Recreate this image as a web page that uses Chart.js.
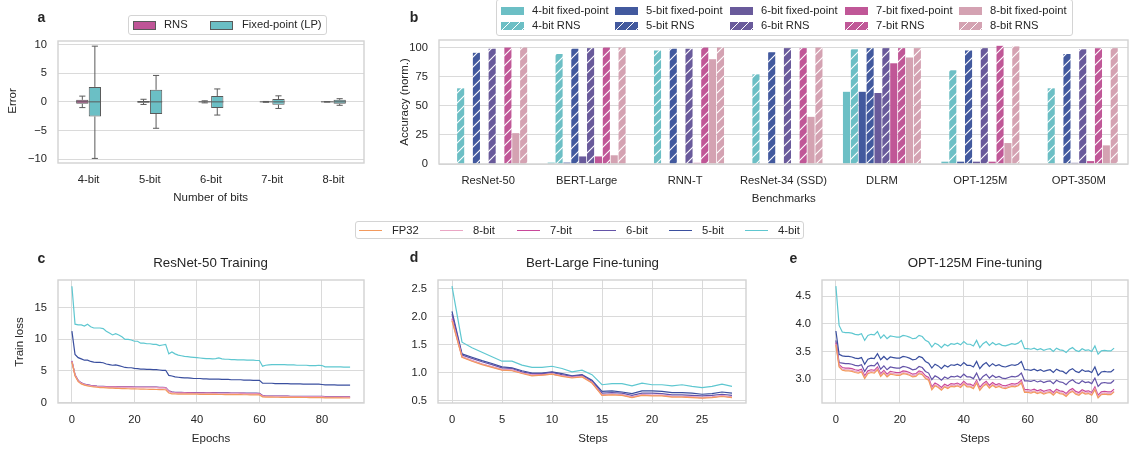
<!DOCTYPE html>
<html>
<head>
<meta charset="utf-8">
<script src="https://cdn.jsdelivr.net/npm/chart.js@4.4.1/dist/chart.umd.min.js"></script>
<style>
  html, body { margin: 0; padding: 0; background: #fff; }
  #fig { position: relative; width: 1133px; height: 449px; overflow: hidden;
         font-family: "Liberation Sans", Arial, sans-serif; color: #262626; }
  #fig canvas { position: absolute; }
  .t { position: absolute; white-space: nowrap; font-size: 11.2px; line-height: 1; }
  .ctr { transform: translate(-50%, -50%); }
  .rot { transform: translate(-50%, -50%) rotate(-90deg); }
  .lbl { font-size: 11.5px; }
  .panel { font-weight: bold; font-size: 14px; }
  .title { font-size: 13.3px; }
  .legend { position: absolute; box-sizing: border-box; background: rgba(255,255,255,0.85);
            border: 1px solid #d4d4d4; border-radius: 3px; }
  .sw { position: absolute; box-sizing: border-box; }
  .ln { position: absolute; height: 1.5px; width: 23px; }
  .lt { position: absolute; white-space: nowrap; font-size: 11.2px; line-height: 1; transform: translateY(-50%); }
</style>
</head>
<body>
<div id="fig">
  <canvas id="chartA" width="380" height="195" style="left:0;top:0"></canvas>
  <canvas id="chartB" width="753" height="195" style="left:380px;top:0"></canvas>
  <canvas id="chartC" width="380" height="199" style="left:0;top:250px"></canvas>
  <canvas id="chartD" width="380" height="199" style="left:380px;top:250px"></canvas>
  <canvas id="chartE" width="373" height="199" style="left:760px;top:250px"></canvas>

  <div class="t panel ctr" style="left:41.5px;top:17px">a</div>
  <div class="t panel ctr" style="left:414px;top:16.5px">b</div>
  <div class="t panel ctr" style="left:41.5px;top:257.5px">c</div>
  <div class="t panel ctr" style="left:414px;top:257px">d</div>
  <div class="t panel ctr" style="left:793.5px;top:257.5px">e</div>

  <div class="t title ctr" style="left:210.5px;top:263px">ResNet-50 Training</div>
  <div class="t title ctr" style="left:592.5px;top:263px">Bert-Large Fine-tuning</div>
  <div class="t title ctr" style="left:975px;top:263px">OPT-125M Fine-tuning</div>

  <div class="t lbl rot" style="left:12.5px;top:101px">Error</div>
  <div class="t lbl ctr" style="left:210.7px;top:198px">Number of bits</div>
  <div class="t lbl rot" style="left:405.3px;top:102px">Accuracy (norm.)</div>
  <div class="t lbl ctr" style="left:783.8px;top:199px">Benchmarks</div>
  <div class="t lbl rot" style="left:20px;top:341.5px">Train loss</div>
  <div class="t lbl ctr" style="left:211px;top:439px">Epochs</div>
  <div class="t lbl ctr" style="left:593px;top:439px">Steps</div>
  <div class="t lbl ctr" style="left:975px;top:439px">Steps</div>

  <div class="legend" id="legA" style="left:128px;top:15px;width:199px;height:20px"></div>
  <div class="legend" id="legB" style="left:496px;top:-1px;width:577px;height:37px"></div>
  <div class="legend" id="legC" style="left:355px;top:221px;width:449px;height:18px"></div>
</div>

<script>
// ---- panel a: error distribution per bit width ----
const bitLabels = ['4-bit', '5-bit', '6-bit', '7-bit', '8-bit'];
const rnsLo  = [-1.0, -0.45, -0.18, -0.07, -0.03];
const rnsQ1  = [-0.35, -0.15, -0.08, -0.03, -0.01];
const rnsMed = [0, 0, 0, 0, 0];
const rnsQ3  = [0.35, 0.15, 0.08, 0.03, 0.01];
const rnsHi  = [1.0, 0.45, 0.18, 0.07, 0.03];
const fixLo  = [-9.85, -4.6, -2.3, -1.15, -0.6];
const fixQ1  = [-2.55, -2.1, -1.05, -0.5, -0.35];
const fixMed = [0, 0, 0, 0, 0];
const fixQ3  = [2.6, 2.1, 1.0, 0.5, 0.35];
const fixHi  = [9.7, 4.6, 2.25, 1.05, 0.55];
const errTicks = [-10, -5, 0, 5, 10];

// ---- panel b: normalised accuracy ----
const benchmarks = ['ResNet-50', 'BERT-Large', 'RNN-T', 'ResNet-34 (SSD)', 'DLRM', 'OPT-125M', 'OPT-350M'];
const fixed4 = [0, 1.2, 0, 0, 62, 2, 0];
const rns4   = [65, 94.5, 97.5, 77, 98.5, 80.5, 65];
const fixed5 = [0, 1.2, 0, 0, 62, 2, 0];
const rns5   = [95.5, 99, 99, 96, 99.5, 97.5, 94.5];
const fixed6 = [0, 6.5, 0, 0, 61, 2, 1];
const rns6   = [99, 99.5, 99, 99.5, 99.5, 99.5, 98.5];
const fixed7 = [0, 6.5, 1, 0, 86.5, 2, 2.5];
const rns7   = [100, 100, 100, 99.5, 99.5, 101.5, 99.5];
const fixed8 = [26.5, 7.5, 90, 40.5, 91.5, 18, 16];
const rns8   = [100, 100, 100, 100, 99.5, 101, 99.5];
const accTicks = [0, 25, 50, 75, 100];

// ---- panels c-e: training loss ----
const lossNames = ['FP32', '8-bit', '7-bit', '6-bit', '5-bit', '4-bit'];

const resnetFp32 = [6.4, 4.2, 3.3, 2.95, 2.75, 2.62, 2.53, 2.46, 2.41, 2.37,
  2.34, 2.31, 2.29, 2.27, 2.25, 2.23, 2.21, 2.2, 2.18, 2.17,
  2.15, 2.14, 2.12, 2.11, 2.1, 2.08, 2.07, 2.06, 2.05, 2.04,
  2.02, 1.5, 1.38, 1.35, 1.34, 1.33, 1.33, 1.32, 1.32, 1.31,
  1.31, 1.3, 1.3, 1.29, 1.29, 1.28, 1.28, 1.27, 1.27, 1.26,
  1.26, 1.25, 1.25, 1.24, 1.24, 1.23, 1.23, 1.22, 1.22, 1.21,
  1.2, 0.9, 0.85, 0.84, 0.84, 0.83, 0.83, 0.82, 0.82, 0.81,
  0.81, 0.8, 0.8, 0.8, 0.79, 0.79, 0.78, 0.78, 0.78, 0.77,
  0.77, 0.74, 0.73, 0.73, 0.72, 0.72, 0.72, 0.71, 0.71, 0.71];
const resnet8 = [6.5, 4.3, 3.4, 3.02, 2.83, 2.72, 2.63, 2.57, 2.52, 2.49,
  2.47, 2.45, 2.44, 2.42, 2.42, 2.41, 2.4, 2.39, 2.39, 2.38,
  2.37, 2.37, 2.36, 2.36, 2.35, 2.35, 2.34, 2.34, 2.33, 2.33,
  2.3, 1.72, 1.56, 1.51, 1.49, 1.48, 1.47, 1.46, 1.46, 1.45,
  1.45, 1.44, 1.44, 1.43, 1.43, 1.42, 1.42, 1.41, 1.41, 1.4,
  1.4, 1.39, 1.39, 1.39, 1.38, 1.38, 1.37, 1.37, 1.36, 1.36,
  1.34, 1.0, 0.95, 0.94, 0.94, 0.93, 0.93, 0.92, 0.92, 0.92,
  0.91, 0.91, 0.91, 0.9, 0.9, 0.9, 0.89, 0.89, 0.89, 0.88,
  0.88, 0.84, 0.83, 0.83, 0.82, 0.82, 0.82, 0.81, 0.81, 0.81];
const resnet7 = [6.55, 4.35, 3.45, 3.06, 2.87, 2.76, 2.67, 2.61, 2.56, 2.53,
  2.51, 2.49, 2.48, 2.46, 2.46, 2.45, 2.44, 2.43, 2.43, 2.42,
  2.41, 2.41, 2.4, 2.4, 2.39, 2.39, 2.38, 2.38, 2.37, 2.37,
  2.34, 1.78, 1.62, 1.56, 1.54, 1.53, 1.52, 1.51, 1.51, 1.5,
  1.5, 1.49, 1.49, 1.48, 1.48, 1.47, 1.47, 1.46, 1.46, 1.45,
  1.45, 1.44, 1.44, 1.44, 1.43, 1.43, 1.42, 1.42, 1.41, 1.41,
  1.39, 1.05, 0.99, 0.98, 0.98, 0.97, 0.97, 0.96, 0.96, 0.96,
  0.95, 0.95, 0.95, 0.94, 0.94, 0.94, 0.93, 0.93, 0.93, 0.92,
  0.92, 0.88, 0.87, 0.87, 0.86, 0.86, 0.86, 0.85, 0.85, 0.85];
const resnet6 = [6.6, 4.4, 3.5, 3.1, 2.9, 2.8, 2.7, 2.65, 2.6, 2.57,
  2.55, 2.53, 2.52, 2.5, 2.5, 2.49, 2.48, 2.47, 2.47, 2.46,
  2.45, 2.45, 2.44, 2.44, 2.43, 2.43, 2.42, 2.42, 2.41, 2.41,
  2.38, 1.85, 1.68, 1.62, 1.6, 1.59, 1.58, 1.57, 1.57, 1.56,
  1.56, 1.55, 1.55, 1.54, 1.54, 1.53, 1.53, 1.52, 1.52, 1.51,
  1.51, 1.5, 1.5, 1.5, 1.49, 1.49, 1.48, 1.48, 1.47, 1.47,
  1.45, 1.1, 1.03, 1.02, 1.02, 1.01, 1.01, 1.0, 1.0, 1.0,
  0.99, 0.99, 0.99, 0.98, 0.98, 0.98, 0.97, 0.97, 0.97, 0.96,
  0.96, 0.92, 0.91, 0.91, 0.9, 0.9, 0.9, 0.89, 0.89, 0.89];
const resnet5 = [11.3, 7.6, 7.1, 6.9, 6.7, 6.7, 6.5, 6.4, 6.35, 6.35,
  6.3, 6.1, 6.0, 5.9, 5.95, 5.85, 5.7, 5.55, 5.5, 5.5,
  5.4, 5.35, 5.3, 5.3, 5.25, 5.25, 5.2, 5.2, 5.15, 5.1,
  5.1, 4.3, 4.2, 4.05, 4.0, 3.95, 3.9, 3.9, 3.85, 3.8,
  3.8, 3.8, 3.75, 3.75, 3.7, 3.7, 3.7, 3.7, 3.65, 3.65,
  3.65, 3.6, 3.6, 3.6, 3.6, 3.55, 3.55, 3.55, 3.5, 3.5,
  3.5, 3.05, 3.05, 3.05, 3.05, 3.0, 3.0, 3.0, 3.0, 3.0,
  2.95, 2.95, 2.95, 2.95, 2.9, 2.9, 2.9, 2.9, 2.9, 2.9,
  2.85, 2.8, 2.8, 2.8, 2.8, 2.75, 2.75, 2.75, 2.75, 2.75];
const resnet4 = [18.4, 12.4, 12.3, 12.3, 12.1, 12.4, 12.0, 11.8, 11.8, 11.8,
  11.7, 11.3, 11.0, 10.7, 10.9, 10.7, 10.4, 10.0, 10.0, 9.9,
  9.7, 9.7, 9.4, 9.4, 9.3, 9.3, 9.2, 9.2, 9.0, 9.1,
  9.2, 7.7, 8.0, 7.7, 7.5, 7.4, 7.3, 7.25, 7.2, 7.15,
  7.1, 7.05, 7.0, 6.95, 6.95, 6.9, 6.95, 7.05, 6.9, 6.85,
  6.85, 6.8, 6.8, 6.75, 6.75, 6.75, 6.7, 6.7, 6.7, 6.65,
  6.65, 5.75, 5.9, 5.95, 6.0, 6.0, 6.0, 6.0, 6.0, 5.95,
  5.95, 5.95, 5.9, 5.9, 5.9, 5.9, 5.85, 5.85, 5.85, 5.9,
  5.85, 5.65, 5.65, 5.65, 5.65, 5.65, 5.65, 5.6, 5.6, 5.6];

const bertFp32 = [1.93, 1.28, 1.21, 1.15, 1.1, 1.05, 1.04, 0.99, 0.95, 0.96,
  0.98, 0.94, 0.91, 0.93, 0.82, 0.6, 0.61, 0.6, 0.56, 0.6,
  0.59, 0.59, 0.57, 0.57, 0.56, 0.55, 0.56, 0.58, 0.56];
const bert8 = [1.95, 1.29, 1.22, 1.16, 1.11, 1.06, 1.05, 1.0, 0.96, 0.96,
  0.98, 0.95, 0.92, 0.94, 0.83, 0.61, 0.62, 0.61, 0.57, 0.61,
  0.6, 0.6, 0.58, 0.58, 0.57, 0.56, 0.57, 0.59, 0.57];
const bert7 = [1.97, 1.29, 1.22, 1.16, 1.11, 1.06, 1.05, 1.0, 0.96, 0.97,
  0.98, 0.95, 0.92, 0.94, 0.83, 0.61, 0.62, 0.61, 0.57, 0.61,
  0.6, 0.6, 0.58, 0.58, 0.57, 0.56, 0.57, 0.59, 0.57];
const bert6 = [2.05, 1.32, 1.26, 1.2, 1.15, 1.09, 1.08, 1.02, 0.99, 0.99,
  1.01, 0.97, 0.94, 0.96, 0.85, 0.64, 0.65, 0.64, 0.6, 0.64,
  0.64, 0.63, 0.61, 0.61, 0.6, 0.59, 0.6, 0.62, 0.6];
const bert5 = [2.1, 1.34, 1.28, 1.22, 1.17, 1.11, 1.09, 1.04, 1.0, 1.0,
  1.02, 0.99, 0.95, 0.97, 0.87, 0.67, 0.68, 0.66, 0.63, 0.68,
  0.68, 0.67, 0.65, 0.65, 0.64, 0.62, 0.63, 0.66, 0.64];
const bert4 = [2.55, 1.55, 1.45, 1.37, 1.29, 1.21, 1.21, 1.14, 1.1, 1.1,
  1.12, 1.08, 1.02, 1.05, 0.97, 0.79, 0.81, 0.81, 0.77, 0.82,
  0.79, 0.79, 0.77, 0.79, 0.76, 0.74, 0.76, 0.8, 0.76];

const optFp32 = [3.62, 3.22, 3.16, 3.15, 3.15, 3.14, 3.12, 3.11, 3.13, 3.01,
  3.10, 3.12, 3.11, 3.17, 3.05, 3.11, 3.04, 3.09, 3.08, 3.07,
  3.07, 3.10, 3.09, 3.07, 3.04, 3.05, 3.10, 3.08, 3.01, 2.98,
  2.81, 2.88, 2.85, 2.80, 2.86, 2.83, 2.87, 2.86, 2.88, 2.85,
  2.91, 2.86, 2.86, 2.83, 2.93, 2.80, 2.87, 2.91, 2.84, 2.89,
  2.85, 2.87, 2.84, 2.83, 2.85, 2.87, 2.86, 2.88, 2.93, 2.76,
  2.76, 2.75, 2.77, 2.74, 2.76, 2.73, 2.75, 2.76, 2.71, 2.77,
  2.74, 2.73, 2.69, 2.75, 2.78, 2.73, 2.71, 2.76, 2.73, 2.74,
  2.71, 2.81, 2.66, 2.72, 2.73, 2.72, 2.72, 2.77];
const opt8 = [3.64, 3.24, 3.18, 3.17, 3.17, 3.16, 3.14, 3.13, 3.15, 3.03,
  3.12, 3.14, 3.13, 3.19, 3.07, 3.13, 3.06, 3.11, 3.10, 3.09,
  3.09, 3.12, 3.11, 3.09, 3.06, 3.07, 3.12, 3.10, 3.03, 3.00,
  2.83, 2.90, 2.87, 2.82, 2.88, 2.85, 2.89, 2.88, 2.90, 2.87,
  2.93, 2.88, 2.88, 2.85, 2.95, 2.82, 2.89, 2.93, 2.86, 2.91,
  2.87, 2.89, 2.86, 2.85, 2.87, 2.89, 2.88, 2.90, 2.95, 2.78,
  2.78, 2.77, 2.79, 2.76, 2.78, 2.75, 2.77, 2.78, 2.73, 2.79,
  2.76, 2.75, 2.71, 2.77, 2.80, 2.75, 2.73, 2.78, 2.75, 2.76,
  2.73, 2.83, 2.68, 2.74, 2.75, 2.74, 2.74, 2.79];
const opt7 = [3.66, 3.26, 3.21, 3.20, 3.20, 3.19, 3.17, 3.16, 3.18, 3.06,
  3.15, 3.17, 3.16, 3.22, 3.10, 3.16, 3.09, 3.14, 3.13, 3.12,
  3.12, 3.15, 3.14, 3.12, 3.09, 3.10, 3.15, 3.13, 3.06, 3.03,
  2.86, 2.93, 2.90, 2.85, 2.91, 2.88, 2.92, 2.91, 2.93, 2.90,
  2.96, 2.91, 2.91, 2.88, 2.98, 2.85, 2.92, 2.96, 2.89, 2.94,
  2.90, 2.92, 2.89, 2.88, 2.90, 2.92, 2.91, 2.93, 2.98, 2.81,
  2.81, 2.80, 2.82, 2.79, 2.81, 2.78, 2.80, 2.81, 2.76, 2.82,
  2.79, 2.78, 2.74, 2.80, 2.83, 2.78, 2.76, 2.81, 2.78, 2.79,
  2.76, 2.86, 2.71, 2.77, 2.78, 2.77, 2.77, 2.82];
const opt6 = [3.70, 3.30, 3.29, 3.28, 3.28, 3.27, 3.25, 3.24, 3.26, 3.14,
  3.23, 3.25, 3.24, 3.30, 3.18, 3.24, 3.17, 3.22, 3.21, 3.20,
  3.20, 3.23, 3.22, 3.20, 3.17, 3.18, 3.23, 3.21, 3.14, 3.11,
  2.99, 3.06, 3.03, 2.98, 3.04, 3.01, 3.05, 3.04, 3.06, 3.03,
  3.09, 3.04, 3.04, 3.01, 3.11, 2.98, 3.05, 3.09, 3.02, 3.07,
  3.03, 3.05, 3.02, 3.01, 3.03, 3.05, 3.04, 3.06, 3.11, 2.97,
  2.97, 2.96, 2.98, 2.95, 2.97, 2.94, 2.96, 2.97, 2.92, 2.98,
  2.95, 2.94, 2.90, 2.96, 2.99, 2.94, 2.92, 2.97, 2.94, 2.95,
  2.92, 3.02, 2.87, 2.93, 2.94, 2.93, 2.93, 2.98];
const opt5 = [3.87, 3.45, 3.42, 3.41, 3.41, 3.40, 3.38, 3.37, 3.39, 3.27,
  3.36, 3.38, 3.37, 3.46, 3.35, 3.41, 3.35, 3.40, 3.39, 3.38,
  3.38, 3.41, 3.40, 3.38, 3.35, 3.36, 3.41, 3.39, 3.32, 3.29,
  3.20, 3.27, 3.24, 3.19, 3.25, 3.22, 3.26, 3.25, 3.27, 3.24,
  3.30, 3.25, 3.25, 3.22, 3.32, 3.19, 3.26, 3.30, 3.23, 3.28,
  3.24, 3.26, 3.23, 3.22, 3.24, 3.26, 3.25, 3.27, 3.32, 3.17,
  3.17, 3.16, 3.18, 3.15, 3.17, 3.14, 3.16, 3.17, 3.12, 3.18,
  3.15, 3.14, 3.10, 3.16, 3.19, 3.14, 3.12, 3.17, 3.14, 3.15,
  3.12, 3.22, 3.07, 3.13, 3.14, 3.13, 3.13, 3.18];
const opt4 = [4.68, 3.97, 3.85, 3.84, 3.84, 3.83, 3.81, 3.80, 3.82, 3.70,
  3.79, 3.81, 3.80, 3.86, 3.74, 3.80, 3.73, 3.78, 3.77, 3.76,
  3.76, 3.79, 3.78, 3.76, 3.73, 3.74, 3.79, 3.77, 3.70, 3.67,
  3.58, 3.65, 3.62, 3.57, 3.63, 3.60, 3.64, 3.63, 3.65, 3.62,
  3.68, 3.63, 3.63, 3.60, 3.70, 3.57, 3.64, 3.68, 3.61, 3.66,
  3.62, 3.64, 3.61, 3.60, 3.62, 3.64, 3.63, 3.65, 3.70, 3.55,
  3.55, 3.54, 3.56, 3.53, 3.55, 3.52, 3.54, 3.55, 3.50, 3.56,
  3.53, 3.52, 3.48, 3.54, 3.57, 3.52, 3.50, 3.55, 3.52, 3.53,
  3.50, 3.60, 3.45, 3.51, 3.52, 3.51, 3.51, 3.56];

const epochTicks = [0, 20, 40, 60, 80];
const resnetLossTicks = [0, 5, 10, 15];
const bertStepTicks = [0, 5, 10, 15, 20, 25];
const bertLossTicks = [0.5, 1.0, 1.5, 2.0, 2.5];
const optStepTicks = [0, 20, 40, 60, 80];
const optLossTicks = [3.0, 3.5, 4.0, 4.5];

// ---- styling ----
const FONT = '"Liberation Sans", Arial, sans-serif';
const boxColors = { rns: '#bf5597', fix: '#6bbfc5' };
const boxLine = '#5a5a5a';
const barColors = ['#6cbfc5', '#42599e', '#695a9b', '#c05797', '#d4a2b2'];
const lineColors = ['#f39a5d', '#eaa6c4', '#c9489a', '#6453a8', '#3a4f9f', '#5ec7d0'];

Chart.defaults.font.family = FONT;
Chart.defaults.font.size = 11.2;
Chart.defaults.color = '#262626';
Chart.defaults.animation = false;
Chart.defaults.responsive = false;
Chart.defaults.devicePixelRatio = 1;
Chart.defaults.plugins.legend.display = false;
Chart.defaults.plugins.tooltip.enabled = false;

const GRID = { color: '#dadada', lineWidth: 1, drawTicks: false };
const NO_GRID = { display: false, drawTicks: false };
const fixW = w => s => { s.width = w; };
const fixH = h => s => { s.height = h; };
const useTicks = vals => s => { s.ticks = vals.map(v => ({ value: v })); };
const minus = v => String(v).replace('-', '\u2212');

// light frame around each plot area
const frame = {
  id: 'frame',
  afterDraw(chart) {
    const { left, top, right, bottom } = chart.chartArea;
    const ctx = chart.ctx;
    ctx.save();
    ctx.strokeStyle = '#d2d2d2';
    ctx.lineWidth = 1.4;
    ctx.strokeRect(left, top, right - left, bottom - top);
    ctx.restore();
  }
};

// whiskers, caps and medians on top of the floating-bar boxes
const whiskers = {
  id: 'whiskers',
  afterDatasetsDraw(chart) {
    const ctx = chart.ctx, y = chart.scales.y;
    ctx.save();
    ctx.strokeStyle = boxLine;
    ctx.lineWidth = 1;
    chart.data.datasets.forEach((ds, di) => {
      chart.getDatasetMeta(di).data.forEach((bar, i) => {
        const x = bar.x, half = bar.width / 2, cap = bar.width / 4;
        const yLo = y.getPixelForValue(ds.stats.lo[i]);
        const yQ1 = y.getPixelForValue(ds.stats.q1[i]);
        const yQ3 = y.getPixelForValue(ds.stats.q3[i]);
        const yHi = y.getPixelForValue(ds.stats.hi[i]);
        const yMed = y.getPixelForValue(ds.stats.med[i]);
        ctx.beginPath();
        ctx.moveTo(x, yQ3); ctx.lineTo(x, yHi);
        ctx.moveTo(x - cap, yHi); ctx.lineTo(x + cap, yHi);
        ctx.moveTo(x, yQ1); ctx.lineTo(x, yLo);
        ctx.moveTo(x - cap, yLo); ctx.lineTo(x + cap, yLo);
        ctx.moveTo(x - half, yMed); ctx.lineTo(x + half, yMed);
        ctx.stroke();
      });
    });
    ctx.restore();
  }
};

function boxSet(label, color, lo, q1, med, q3, hi) {
  return {
    label,
    data: q1.map((v, i) => [v, q3[i]]),
    stats: { lo, q1, med, q3, hi },
    backgroundColor: color,
    borderColor: boxLine,
    borderWidth: 1,
    borderSkipped: false,
    categoryPercentage: 0.41,
    barPercentage: 0.98
  };
}

new Chart(document.getElementById('chartA'), {
  type: 'bar',
  data: {
    labels: bitLabels,
    datasets: [
      boxSet('RNS', boxColors.rns, rnsLo, rnsQ1, rnsMed, rnsQ3, rnsHi),
      boxSet('Fixed-point (LP)', boxColors.fix, fixLo, fixQ1, fixMed, fixQ3, fixHi)
    ]
  },
  options: {
    layout: { padding: { top: 41, right: 16, left: 0, bottom: 0 } },
    scales: {
      x: { grid: NO_GRID, border: { display: false }, afterFit: fixH(32), ticks: { padding: 10 } },
      y: { min: -10.65, max: 10.6, grid: GRID, border: { display: false },
           afterBuildTicks: useTicks(errTicks), afterFit: fixW(58),
           ticks: { padding: 11, callback: v => minus(v) } }
    }
  },
  plugins: [whiskers, frame]
});

// ---- panel b ----
const ctxB = document.getElementById('chartB').getContext('2d');
function hatch(color) {
  const c = document.createElement('canvas');
  c.width = 10; c.height = 10;
  const g = c.getContext('2d');
  g.fillStyle = color;
  g.fillRect(0, 0, 10, 10);
  g.strokeStyle = '#ffffff';
  g.lineWidth = 1.1;
  g.beginPath();
  g.moveTo(-1, 11); g.lineTo(11, -1);
  g.moveTo(-1, 1); g.lineTo(1, -1);
  g.moveTo(9, 11); g.lineTo(11, 9);
  g.stroke();
  return ctxB.createPattern(c, 'repeat');
}

const fixedAcc = [fixed4, fixed5, fixed6, fixed7, fixed8];
const rnsAcc = [rns4, rns5, rns6, rns7, rns8];
const barSets = [];
bitLabels.forEach((b, k) => {
  barSets.push({ label: b + ' fixed-point', data: fixedAcc[k], backgroundColor: barColors[k] });
  barSets.push({ label: b + ' RNS', data: rnsAcc[k], backgroundColor: hatch(barColors[k]) });
});

new Chart(ctxB, {
  type: 'bar',
  data: { labels: benchmarks, datasets: barSets },
  options: {
    datasets: { bar: { categoryPercentage: 0.8, barPercentage: 0.9, borderWidth: 0 } },
    layout: { padding: { top: 40, right: 5, left: 0, bottom: 0 } },
    scales: {
      x: { grid: NO_GRID, border: { display: false }, afterFit: fixH(31), ticks: { padding: 10 } },
      y: { min: 0, max: 106.5, grid: GRID, border: { display: false },
           afterBuildTicks: useTicks(accTicks), afterFit: fixW(59), ticks: { padding: 11 } }
    }
  },
  plugins: [frame]
});

// ---- panels c, d, e ----
function lossChart(id, series, xr, yr, xTicks, yTicks, digits, yWidth, padRight) {
  new Chart(document.getElementById(id), {
    type: 'line',
    data: {
      labels: series[0].map((_, i) => i),
      datasets: series.map((s, k) => ({
        label: lossNames[k], data: s, borderColor: lineColors[k],
        borderWidth: 1.2, pointRadius: 0, tension: 0, fill: false
      }))
    },
    options: {
      layout: { padding: { top: 30, right: padRight, left: 0, bottom: 0 } },
      scales: {
        x: { type: 'linear', min: xr[0], max: xr[1], grid: GRID, border: { display: false },
             afterBuildTicks: useTicks(xTicks), afterFit: fixH(46), ticks: { padding: 10 } },
        y: { min: yr[0], max: yr[1], grid: GRID, border: { display: false },
             afterBuildTicks: useTicks(yTicks), afterFit: fixW(yWidth),
             ticks: { padding: 11, callback: v => v.toFixed(digits) } }
      }
    },
    plugins: [frame]
  });
}

lossChart('chartC', [resnetFp32, resnet8, resnet7, resnet6, resnet5, resnet4],
  [-4.45, 93.45], [-0.08, 19.4], epochTicks, resnetLossTicks, 0, 58, 16);
lossChart('chartD', [bertFp32, bert8, bert7, bert6, bert5, bert4],
  [-1.4, 29.4], [0.464, 2.66], bertStepTicks, bertLossTicks, 1, 58, 14);
lossChart('chartE', [optFp32, opt8, opt7, opt6, opt5, opt4],
  [-4.35, 91.35], [2.57, 4.79], optStepTicks, optLossTicks, 1, 62, 5);

// ---- legends ----
function put(parent, cls, css, text) {
  const d = document.createElement('div');
  d.className = cls;
  d.style.cssText = css;
  if (text) d.textContent = text;
  parent.appendChild(d);
}

const legA = document.getElementById('legA');
[['RNS', boxColors.rns, 4, 35], ['Fixed-point (LP)', boxColors.fix, 81, 113]].forEach(([name, col, sx, tx]) => {
  put(legA, 'sw', `left:${sx}px;top:4.5px;width:23px;height:9px;background:${col};border:1px solid ${boxLine}`);
  put(legA, 'lt', `left:${tx}px;top:9px`, name);
});

const legB = document.getElementById('legB');
const colX = [4, 118, 233, 348, 462];
bitLabels.forEach((b, k) => {
  const col = barColors[k];
  put(legB, 'sw', `left:${colX[k]}px;top:7px;width:23px;height:7.5px;background:${col}`);
  put(legB, 'lt', `left:${colX[k] + 31}px;top:11px`, b + ' fixed-point');
  put(legB, 'sw', `left:${colX[k]}px;top:22px;width:23px;height:7.5px;` +
      `background:repeating-linear-gradient(135deg, ${col} 0 6px, #fff 6px 7.07px)`);
  put(legB, 'lt', `left:${colX[k] + 31}px;top:26px`, b + ' RNS');
});

const legC = document.getElementById('legC');
const itemX = [3, 84, 161, 237, 313, 389];
lossNames.forEach((n, k) => {
  put(legC, 'ln', `left:${itemX[k]}px;top:7.5px;background:${lineColors[k]}`);
  put(legC, 'lt', `left:${itemX[k] + 33}px;top:8.5px`, n);
});
</script>
</body>
</html>
